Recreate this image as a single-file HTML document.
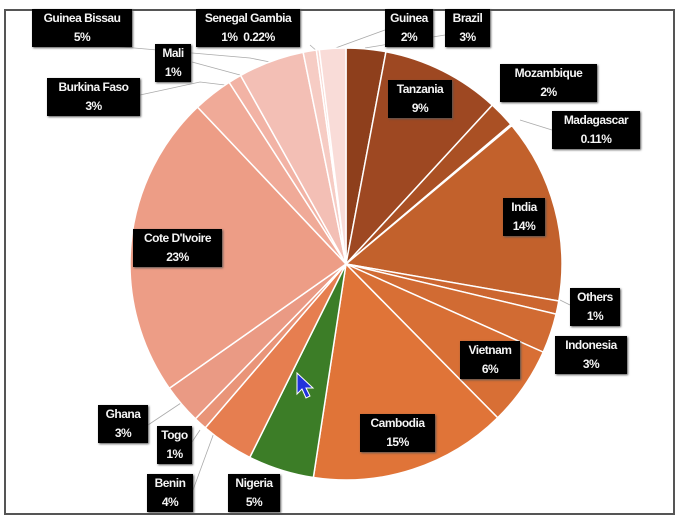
<!DOCTYPE html>
<html><head><style>
body{margin:0;width:684px;height:519px;background:#fff;overflow:hidden;position:relative;font-family:"Liberation Sans",sans-serif}
.f{position:absolute;left:4px;top:9px;width:671px;height:506px;border:2px solid #555;box-sizing:border-box}
.l{position:absolute;background:#000;color:#f4f4f4;font-size:12px;font-weight:bold;line-height:19px;text-align:center;box-shadow:1px 1px 2px #555;letter-spacing:-0.5px;white-space:nowrap}
</style></head><body>
<div class="f"></div>
<svg id="s" width="684" height="519" style="position:absolute;left:0;top:0">
<g stroke="#aaa" stroke-width="0.8" fill="none">
<path d="M100 45 L250 58 L270 62"/><path d="M192 62 L240 75"/><path d="M140 95 L200 82 L225 85"/>
<path d="M310 45 L318 52"/><path d="M385 30 L330 50"/><path d="M445 35 L365 48"/>
<path d="M552 130 L520 120"/><path d="M570 305 L560 300"/><path d="M148 425 L190 397"/>
<path d="M192 442 L200 430"/><path d="M193 490 L215 430"/>
</g>
</svg>
<script>
var d=[[3,"#8E3F1C"],[9,"#9E4822"],[2,"#AA5024"],[0.11,"#B0542A"],[14,"#C2612C"],[1,"#CC6630"],[3,"#D16B33"],[6,"#D86F35"],[15,"#E07438"],[5,"#3C7D27"],[4,"#E67E50"],[1,"#E99478"],[3,"#EA9A84"],[23,"#ED9D86"],[3,"#F0AA98"],[1,"#F2B3A5"],[5,"#F3BFB5"],[1,"#F6CCC4"],[0.22,"#F8D6D0"],[2,"#F9DCD8"]];
var t=0;d.forEach(function(x){t+=x[0]});
var cx=346,cy=264,r=216,a=0,s=document.getElementById('s'),h='';
d.forEach(function(x){var b=a+x[0]/t*2*Math.PI;
var x1=cx+r*Math.sin(a),y1=cy-r*Math.cos(a),x2=cx+r*Math.sin(b),y2=cy-r*Math.cos(b);
h+='<path d="M'+cx+' '+cy+' L'+x1+' '+y1+' A'+r+' '+r+' 0 '+((b-a)>Math.PI?1:0)+' 1 '+x2+' '+y2+' Z" fill="'+x[1]+'" stroke="#fff" stroke-width="1.5"/>';a=b;});
s.insertAdjacentHTML('beforeend',h);
</script>
<div class="l" style="left:32px;top:9px;width:100px">Guinea Bissau<br>5%</div>
<div class="l" style="left:196px;top:9px;width:104px">Senegal Gambia<br>1% &nbsp;0.22%</div>
<div class="l" style="left:385px;top:9px;width:48px">Guinea<br>2%</div>
<div class="l" style="left:445px;top:9px;width:45px">Brazil<br>3%</div>
<div class="l" style="left:155px;top:44px;width:36px">Mali<br>1%</div>
<div class="l" style="left:47px;top:78px;width:93px">Burkina Faso<br>3%</div>
<div class="l" style="left:388px;top:80px;width:64px">Tanzania<br>9%</div>
<div class="l" style="left:500px;top:64px;width:97px">Mozambique<br>2%</div>
<div class="l" style="left:552px;top:111px;width:88px">Madagascar<br>0.11%</div>
<div class="l" style="left:503px;top:198px;width:42px">India<br>14%</div>
<div class="l" style="left:133px;top:229px;width:89px">Cote D'Ivoire<br>23%</div>
<div class="l" style="left:570px;top:288px;width:50px">Others<br>1%</div>
<div class="l" style="left:555px;top:336px;width:72px">Indonesia<br>3%</div>
<div class="l" style="left:460px;top:341px;width:60px">Vietnam<br>6%</div>
<div class="l" style="left:98px;top:405px;width:50px">Ghana<br>3%</div>
<div class="l" style="left:157px;top:426px;width:35px">Togo<br>1%</div>
<div class="l" style="left:360px;top:414px;width:75px">Cambodia<br>15%</div>
<div class="l" style="left:147px;top:474px;width:46px">Benin<br>4%</div>
<div class="l" style="left:228px;top:474px;width:52px">Nigeria<br>5%</div>
<svg width="20" height="30" style="position:absolute;left:296px;top:372px"><path d="M1 1 L1 22 L6 17 L10 26 L14 24 L10 16 L17 16 Z" fill="#2233dd" stroke="#fff" stroke-width="1"/></svg>
</body></html>
